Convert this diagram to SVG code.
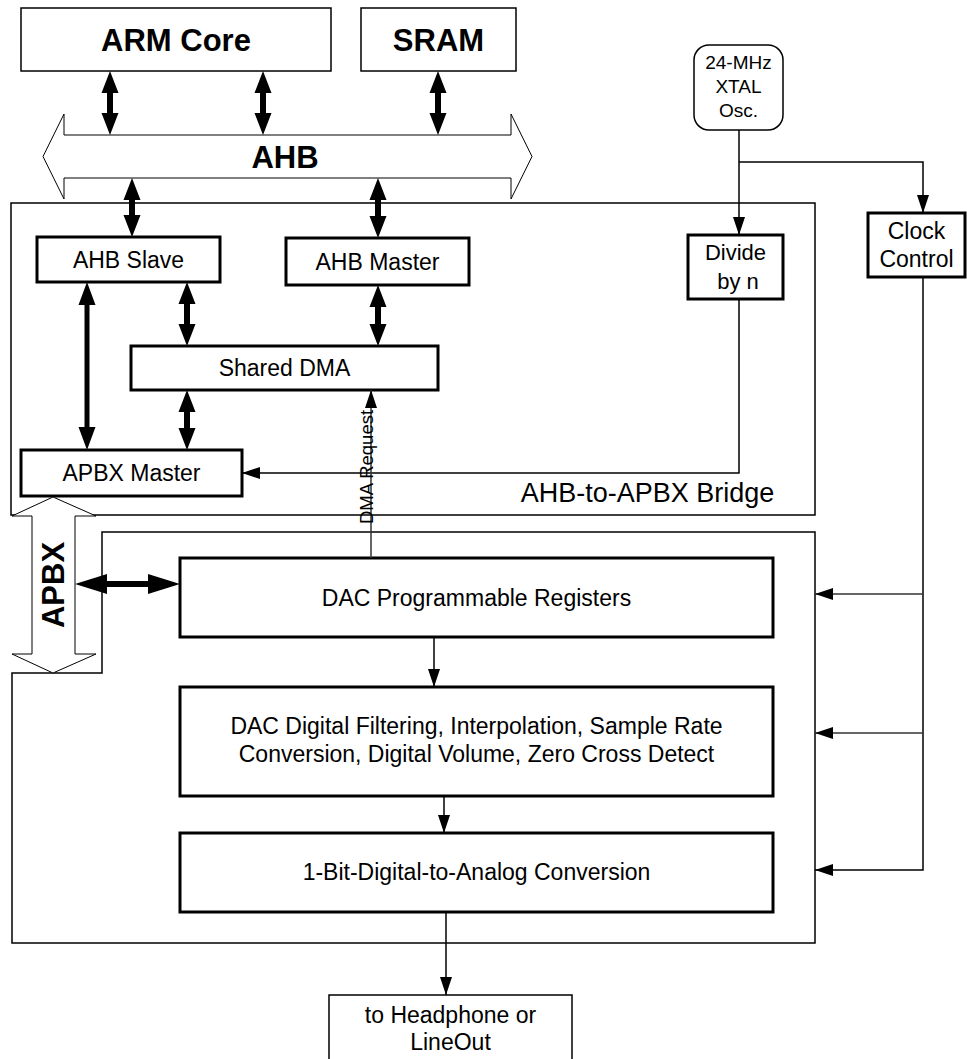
<svg xmlns="http://www.w3.org/2000/svg" width="967" height="1059" viewBox="0 0 967 1059">
<style>
text{font-family:"Liberation Sans",Arial,Helvetica,sans-serif;fill:#000;text-anchor:middle}
.b{font-weight:bold;font-size:31px}
.n{font-size:23px}
.s{font-size:19px}
.thin{fill:#fff;stroke:#000;stroke-width:1.5}
.bold{fill:#fff;stroke:#000;stroke-width:3}
.bus{fill:#fff;stroke:#000;stroke-width:1}
.wire{fill:none;stroke:#000;stroke-width:1.5}
.gwire{fill:none;stroke:#333;stroke-width:1.5}
.da{fill:#000;stroke:none}
</style>
<defs>
<marker id="ah" markerUnits="userSpaceOnUse" markerWidth="18" markerHeight="12" viewBox="0 0 18 12" refX="18" refY="6" orient="auto">
<path d="M0,0 L18,6 L0,12 Z" fill="#000"/>
</marker>
</defs>

<g id="containers">
<path id="bridge" d="M11,203 H815 V515 H11 Z" class="thin"/>
<path id="dac-block" d="M102,532 H815 V943 H12 V673 H102 Z" class="thin"/>
</g>

<g id="arm-core"><rect x="21" y="8" width="310" height="63" class="thin"/><text class="b" x="176" y="51">ARM Core</text></g>
<g id="sram"><rect x="361" y="8" width="155" height="63" class="thin"/><text class="b" x="438.5" y="51">SRAM</text></g>
<g id="ahb-bus"><path d="M64,135 H511 V114 L532,156.5 L511,199 V178 H64 V199 L43,156.5 L64,114 Z" class="bus"/><text class="b" x="285" y="168">AHB</text></g>

<g id="ahb-slave"><rect x="37" y="237" width="183" height="45" class="bold"/><text class="n" x="128.5" y="268">AHB Slave</text></g>
<g id="ahb-master"><rect x="286" y="238" width="183" height="47" class="bold"/><text class="n" x="377.5" y="270">AHB Master</text></g>
<g id="shared-dma"><rect x="131" y="346" width="307" height="44" class="bold"/><text class="n" x="284.5" y="376">Shared DMA</text></g>
<g id="apbx-master"><rect x="21" y="450" width="221" height="46" class="bold"/><text class="n" x="131.5" y="481">APBX Master</text></g>
<g id="bridge-label"><text class="n" style="font-size:27px" x="647.5" y="502">AHB-to-APBX Bridge</text></g>

<g id="xtal"><rect x="694" y="45" width="89" height="85" rx="15" ry="15" class="thin"/>
<text class="s" x="738.5" y="69">24-MHz</text><text class="s" x="738.5" y="93">XTAL</text><text class="s" x="738.5" y="117">Osc.</text></g>
<g id="divide"><rect x="688" y="235" width="95" height="64" class="bold"/><text class="n" style="font-size:22px" x="735.5" y="260">Divide</text><text class="n" style="font-size:22px" x="738" y="289">by n</text></g>
<g id="clock-control"><rect x="868" y="213" width="97" height="64" class="bold"/><text class="n" x="916.5" y="239">Clock</text><text class="n" x="916.5" y="267">Control</text></g>

<g id="apbx-bus"><path d="M53,497 L96,516 H75 V654 H96 L53,673 L12,654 H32 V516 H12 Z" class="bus"/>
<text class="b" transform="translate(64,585) rotate(-90)">APBX</text></g>

<g id="dac-registers"><rect x="180" y="558" width="593" height="79" class="bold"/><text class="n" x="476.5" y="606">DAC Programmable Registers</text></g>
<g id="dac-filter"><rect x="180" y="687" width="593" height="109" class="bold"/><text class="n" x="476.5" y="734">DAC Digital Filtering, Interpolation, Sample Rate</text><text class="n" x="476.5" y="762">Conversion, Digital Volume, Zero Cross Detect</text></g>
<g id="dac-1bit"><rect x="180" y="833" width="593" height="79" class="bold"/><text class="n" x="476.5" y="880">1-Bit-Digital-to-Analog Conversion</text></g>
<g id="headphone"><rect x="329" y="995" width="243" height="70" class="thin"/><text class="n" x="450.5" y="1023">to Headphone or</text><text class="n" x="450.5" y="1050">LineOut</text></g>

<g id="connectors">
<!-- thick double arrows -->
<path class="da" d="M110,71 L118.5,93 H113 V113 H118.5 L110,135 L101.5,113 H107 V93 H101.5 Z"/>
<path class="da" d="M263,71 L271.5,93 H266 V113 H271.5 L263,135 L254.5,113 H260 V93 H254.5 Z"/>
<path class="da" d="M438,71 L446.5,93 H441 V113 H446.5 L438,135 L429.5,113 H435 V93 H429.5 Z"/>
<path class="da" d="M132,178 L140.5,200 H135 V215 H140.5 L132,237 L123.5,215 H129 V200 H123.5 Z"/>
<path class="da" d="M378,178 L386.5,200 H381 V216 H386.5 L378,238 L369.5,216 H375 V200 H369.5 Z"/>
<path class="da" d="M187,282 L195.5,304 H190 V324 H195.5 L187,346 L178.5,324 H184 V304 H178.5 Z"/>
<path class="da" d="M378,285 L386.5,307 H381 V324 H386.5 L378,346 L369.5,324 H375 V307 H369.5 Z"/>
<path class="da" d="M187,390 L195.5,412 H190 V428 H195.5 L187,450 L178.5,428 H184 V412 H178.5 Z"/>
<path class="da" d="M87,282 L95.5,305 H89.5 V427 H95.5 L87,450 L78.5,427 H84.5 V305 H78.5 Z"/>
<path class="da" d="M75,584 L107,574 V581 H148 V574 L180,584 L148,594 V587 H107 V594 Z"/>
<!-- clock wires -->
<path class="wire" d="M739,130 V235" marker-end="url(#ah)"/>
<path class="wire" d="M739,162 H923 V213" marker-end="url(#ah)"/>
<path class="wire" d="M739,299 V473 H242" marker-end="url(#ah)"/>
<path class="wire" d="M923,277 V870 H815" marker-end="url(#ah)"/>
<path class="gwire" d="M923,594 H815" marker-end="url(#ah)"/>
<path class="gwire" d="M923,733 H815" marker-end="url(#ah)"/>
<!-- DMA request -->
<path class="gwire" d="M371,558 V390" marker-end="url(#ah)"/>
<text style="font-size:18.5px" transform="translate(373,467) rotate(-90)">DMA Request</text>
<!-- data path -->
<path class="wire" d="M434,637 V687" marker-end="url(#ah)"/>
<path class="wire" d="M444,796 V833" marker-end="url(#ah)"/>
<path class="wire" d="M446,912 V995" marker-end="url(#ah)"/>
</g>
</svg>
